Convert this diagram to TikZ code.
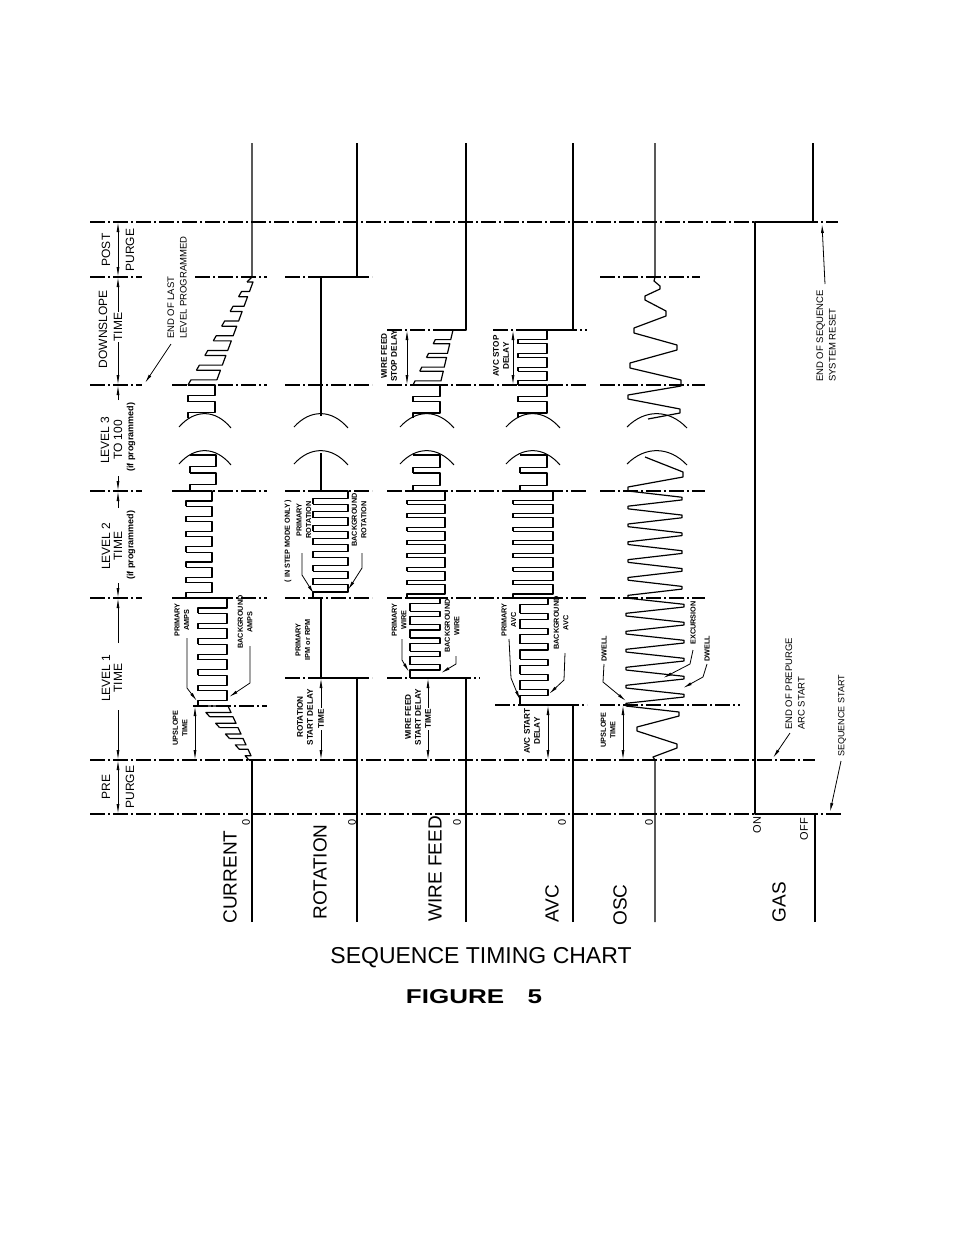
\documentclass[tikz,border=0pt]{standalone}
\usepackage{fontspec}
\setmainfont{Liberation Sans}
\usetikzlibrary{arrows.meta}
% square wave: #1 y bottom, #2 y top, #3 periods, #4 xL bottom, #5 xR bottom, #6 xL top, #7 xR top, #8 fraction at L
\newcommand\sqw[8]{%
  \pgfmathsetmacro\sqP{(#1-#2)/#3}%
  \foreach \sqk in {1,...,#3}{%
    \pgfmathsetmacro\sqYa{#1-(\sqk-1)*\sqP}%
    \pgfmathsetmacro\sqYb{\sqYa-#8*\sqP}%
    \pgfmathsetmacro\sqYc{\sqYa-\sqP}%
    \pgfmathsetmacro\sqTa{(#1-\sqYa)/(#1-#2)}%
    \pgfmathsetmacro\sqTb{(#1-\sqYb)/(#1-#2)}%
    \pgfmathsetmacro\sqTc{(#1-\sqYc)/(#1-#2)}%
    \pgfmathsetmacro\sqLa{#4+(#6-#4)*\sqTa}%
    \pgfmathsetmacro\sqLb{#4+(#6-#4)*\sqTb}%
    \pgfmathsetmacro\sqRb{#5+(#7-#5)*\sqTb}%
    \pgfmathsetmacro\sqRc{#5+(#7-#5)*\sqTc}%
    \pgfmathsetmacro\sqLc{#4+(#6-#4)*\sqTc}%
    \draw[sig] (\sqLa,\sqYa) -- (\sqLb,\sqYb) -- (\sqRb,\sqYb) -- (\sqRc,\sqYc) -- (\sqLc,\sqYc);
  }%
}
% trapezoid wave: #1 y bottom, #2 y top, #3 periods, #4 centre, #5 amp bottom, #6 amp top, #7 dwell fraction
\newcommand\trw[7]{%
  \pgfmathsetmacro\trP{(#1-#2)/#3}%
  \foreach \trk in {1,...,#3}{%
    \pgfmathsetmacro\trYa{#1-(\trk-1)*\trP}%
    \pgfmathsetmacro\trYb{\trYa-#7*\trP/2}%
    \pgfmathsetmacro\trYc{\trYa-\trP/2}%
    \pgfmathsetmacro\trYd{\trYc-#7*\trP/2}%
    \pgfmathsetmacro\trYe{\trYa-\trP}%
    \pgfmathsetmacro\trXa{#4-(#5+(#6-#5)*(#1-\trYa)/(#1-#2))}%
    \pgfmathsetmacro\trXb{#4-(#5+(#6-#5)*(#1-\trYb)/(#1-#2))}%
    \pgfmathsetmacro\trXc{#4+(#5+(#6-#5)*(#1-\trYc)/(#1-#2))}%
    \pgfmathsetmacro\trXd{#4+(#5+(#6-#5)*(#1-\trYd)/(#1-#2))}%
    \pgfmathsetmacro\trXe{#4-(#5+(#6-#5)*(#1-\trYe)/(#1-#2))}%
    \draw[sig] (\trXa,\trYa) -- (\trXb,\trYb) -- (\trXc,\trYc) -- (\trXd,\trYd) -- (\trXe,\trYe);
  }%
}
% break marks
\newcommand\brk[2]{%
  \draw[line width=1pt] ({#1-#2},427) .. controls ({#1-#2*0.4},409) and ({#1+#2*0.4},409) .. ({#1+#2},428);
  \draw[line width=1pt] ({#1-#2},464) .. controls ({#1-#2*0.4},446) and ({#1+#2*0.4},446) .. ({#1+#2},465);
}
\begin{document}
\begin{tikzpicture}[x=1pt,y=-1pt,
  sig/.style={line width=1.2pt,line join=round},
  dd/.style={line width=1.1pt,dash pattern=on 15pt off 3pt on 2pt off 3pt},
  dim/.style={line width=0.8pt,arrows={Latex[length=10pt,width=3pt]-Latex[length=10pt,width=3pt]}},
  dimhalf/.style={line width=0.8pt,arrows={-Latex[length=10pt,width=3pt]}},
  lead/.style={line width=0.8pt,arrows={-Latex[length=9pt,width=3pt]}},
  hdr/.style={rotate=90,font=\fontsize{12}{13}\selectfont,inner sep=1pt},
  hdrw/.style={hdr,fill=white},
  prog/.style={rotate=90,font=\fontsize{9}{10}\selectfont\bfseries,inner sep=1pt},
  sml/.style={rotate=90,font=\fontsize{7.3}{9.5}\selectfont\bfseries,align=center,inner sep=0.5pt},
  dly/.style={rotate=90,font=\fontsize{8.2}{10}\selectfont\bfseries,align=center,inner sep=0.5pt},
  dlyw/.style={dly,fill=white,inner sep=1.5pt},
  note/.style={rotate=90,font=\fontsize{9.5}{12.5}\selectfont,align=left,anchor=west,inner sep=0pt},
  big/.style={rotate=90,font=\fontsize{19}{20}\selectfont,inner sep=0pt},
  zero/.style={rotate=90,font=\fontsize{11}{12}\selectfont,inner sep=0pt}]
\fill[white] (0,0) rectangle (954,1235);
\path[use as bounding box] (0,0) rectangle (954,1235);

% ---------- dash-dot time lines ----------
\draw[dd] (90,222)--(838,222);
\draw[dd] (90,814)--(842,814);
\draw[dd] (90,760)--(815,760);
\foreach \yy in {277,385,491,598}{\draw[dd] (90,\yy)--(142,\yy);}
\draw[dd] (195,277)--(267,277);
\draw[dd] (285,277)--(372,277);
\draw[dd] (600,277)--(700,277);
\draw[dd] (387,330)--(453,330);
\draw[dd] (493,330)--(587,330);
\foreach \yy in {385,491,598}{%
  \draw[dd] (172,\yy)--(267,\yy);
  \draw[dd] (285,\yy)--(372,\yy);
  \draw[dd] (387,\yy)--(587,\yy);
  \draw[dd] (600,\yy)--(705,\yy);
}
\draw[dd] (285,678)--(372,678);
\draw[dd] (387,678)--(480,678);
\draw[dd] (193,706)--(267,706);
\draw[dd] (495,705)--(587,705);
\draw[dd] (600,705)--(740,705);

% ---------- header ----------
\draw[dim] (118,222)--(118,277);
\node[hdr] (post) at (106,250) {POST};
\node[hdr] (purgeA) at (130,250) {PURGE};
\draw[dimhalf] (118,312)--(118,277);
\draw[dimhalf] (118,342)--(118,385);
\node[hdr] (down) at (103,329) {DOWNSLOPE};
\node[hdrw] (downt) at (118,327) {TIME};
\draw[dimhalf] (118,400)--(118,385);
\draw[dimhalf] (118,476)--(118,491);
\node[hdr] (lv3) at (105,440) {LEVEL 3};
\node[hdr] (lv3t) at (118,440) {TO 100};
\node[prog] (lv3p) at (131,437) {(if programmed)};
\draw[dimhalf] (118,508)--(118,491);
\draw[dimhalf] (118,583)--(118,598);
\node[hdr] (lv2) at (106,546) {LEVEL 2};
\node[hdr] (lv2t) at (118,546) {TIME};
\node[prog] (lv2p) at (131,545) {(if programmed)};
\draw[dimhalf] (118,643)--(118,598);
\draw[dimhalf] (118,710)--(118,760);
\node[hdr] (lv1) at (106,678) {LEVEL 1};
\node[hdr] (lv1t) at (118,678) {TIME};
\draw[dim] (118,760)--(118,814);
\node[hdr] (pre) at (106,787) {PRE};
\node[hdr] (purgeB) at (130,787) {PURGE};

% ---------- CURRENT ----------
\draw[sig] (252,922)--(252,760)--(249,760);
\sqw{760}{706}{5}{249}{253}{200}{228}{0.4}
\draw[sig] (200,706)--(198,706);
\sqw{706}{598}{7}{198}{227}{198}{227}{0.35}
\draw[sig] (198,598)--(186,598);
\sqw{598}{491}{7}{186}{212}{186}{212}{0.35}
\draw[sig] (186,491)--(190,491);
\sqw{491}{455}{2}{190}{216}{190}{216}{0.35}
\sqw{418}{385}{2}{188}{215}{188}{215}{0.35}
\sqw{385}{282}{7}{188}{215}{247}{253}{0.35}
\draw[sig] (247,282)--(252,277)--(252,143);
\brk{205}{26}
\draw[dim] (195,706)--(195,760);
\node[sml] (ups1) at (180,728) {UPSLOPE\\TIME};
\node[sml] (pamps) at (182,620) {PRIMARY\\AMPS};
\draw[lead] (187,638)--(187,688)--(197,701);
\node[sml] (bamps) at (245,622) {BACKGROUND\\AMPS};
\draw[lead] (250,646)--(250,683)--(229,697);
\node[note] (eol) at (177,339) {END OF LAST\\LEVEL PROGRAMMED};
\draw[lead] (171,344)--(145,383);
\node[zero] (z1) at (246,822) {0};
\node[big] (lcur) at (230,877) {CURRENT};

% ---------- ROTATION ----------
\draw[sig] (357,922)--(357,678)--(321,678)--(321,598)--(313,598);
\sqw{598}{491}{8}{313}{348}{313}{348}{0.45}
\draw[sig] (313,491)--(321,491)--(321,453);
\draw[sig] (321,416)--(321,277)--(357,277)--(357,143);
\brk{321}{27}
\draw[dim] (321,678)--(321,760);
\node[dly] (rsd) at (305,717) {ROTATION\\START DELAY};
\node[dlyw] (rsdt) at (321,719) {TIME};
\node[sml] (pipm) at (303,640) {PRIMARY\\IPM or RPM};
\node[sml] (step) at (288,541) {( IN STEP MODE ONLY )};
\node[sml] (prot) at (304,520) {PRIMARY\\ROTATION};
\draw[lead] (302,553)--(302,575)--(314,594);
\node[sml] (brot) at (359,520) {BACKGROUND\\ROTATION};
\draw[lead] (362,553)--(362,568)--(348,590);
\node[zero] (z2) at (352,822) {0};
\node[big] (lrot) at (320,872) {ROTATION};

% ---------- WIRE FEED ----------
\draw[sig] (466,922)--(466,678)--(410,678);
\sqw{678}{598}{6}{410}{440}{410}{440}{0.6}
\draw[sig] (410,598)--(407,598);
\sqw{598}{491}{8}{407}{445}{407}{445}{0.3}
\draw[sig] (407,491)--(413,491);
\sqw{491}{455}{2}{413}{440}{413}{440}{0.3}
\sqw{418}{385}{2}{413}{440}{413}{440}{0.3}
\sqw{385}{330}{4}{413}{440}{440}{453}{0.3}
\draw[sig] (440,330)--(466,330)--(466,143);
\brk{427}{27}
\draw[dim] (407,330)--(407,385);
\node[dly] (wsd) at (389,356) {WIRE FEED\\STOP DELAY};
\draw[dim] (428,678)--(428,760);
\node[dly] (wst) at (413,717) {WIRE FEED\\START DELAY};
\node[dlyw] (wstt) at (428,719) {TIME};
\node[sml] (pwire) at (399,620) {PRIMARY\\WIRE};
\draw[lead] (402,639)--(402,660)--(409,672);
\node[sml] (bwire) at (452,626) {BACKGROUND\\WIRE};
\draw[lead] (456,656)--(456,664)--(441,673);
\node[zero] (z3) at (457,822) {0};
\node[big] (lwire) at (435,869) {WIRE FEED};

% ---------- AVC ----------
\draw[sig] (573,922)--(573,705)--(520,705);
\sqw{705}{598}{7}{520}{548}{520}{548}{0.6}
\draw[sig] (520,598)--(513,598);
\sqw{598}{491}{8}{513}{553}{513}{553}{0.3}
\draw[sig] (513,491)--(520,491);
\sqw{491}{455}{2}{520}{547}{520}{547}{0.3}
\sqw{418}{385}{2}{518}{547}{518}{547}{0.3}
\sqw{385}{330}{4}{518}{547}{518}{547}{0.3}
\draw[sig] (518,330)--(573,330)--(573,143);
\brk{533}{27}
\draw[dim] (513,330)--(513,385);
\node[dly] (asd) at (501,356) {AVC STOP\\DELAY};
\draw[dim] (548,705)--(548,760);
\node[dly] (ast) at (532,731) {AVC START\\DELAY};
\node[sml] (pavc) at (509,620) {PRIMARY\\AVC};
\draw[lead] (509,639)--(511,678)--(520,700);
\node[sml] (bavc) at (561,623) {BACKGROUND\\AVC};
\draw[lead] (565,653)--(564,680)--(549,694);
\node[zero] (z4) at (562,822) {0};
\node[big] (lavc) at (552,904) {AVC};

% ---------- OSC ----------
\draw[sig] (655,922)--(655,760)--(653,757)--(677,748)--(677,744)--(637,731)--(637,727)--(679,716)--(679,712)--(626,706);
\trw{706}{598}{6}{655}{29}{29}{0.3}
\trw{598}{491}{6}{655}{27}{27}{0.3}
\draw[sig] (628,491)--(628,487)--(683,477)--(683,472)--(645,457);
\draw[sig] (648,419)--(680,413)--(680,409)--(628,399)--(628,395)--(681,386)--(681,380)--(630,368)--(630,363)--(677,350)--(677,345)--(634,333)--(634,328)--(666,316)--(666,311)--(645,300)--(645,296)--(660,289)--(660,286)--(654,281)--(655,277)--(655,143);
\brk{657}{30}
\draw[dim] (623,705)--(623,760);
\node[sml] (ups2) at (608,730) {UPSLOPE\\TIME};
\node[sml] (dw1) at (604,649) {DWELL};
\draw[lead] (604,664)--(603,682)--(626,701);
\node[sml] (exc) at (693,623) {EXCURSION};
\draw[lead] (693,650)--(690,664)--(663,678);
\node[sml] (dw2) at (707,649) {DWELL};
\draw[lead] (707,664)--(703,677)--(683,688);
\node[zero] (z5) at (649,822) {0};
\node[big] (losc) at (620,905) {OSC};

% ---------- GAS ----------
\draw[sig] (815,922)--(815,814)--(755,814)--(755,222)--(813,222)--(813,143);
\node[zero] (on) at (757,825) {ON};
\node[zero] (off) at (804,829) {OFF};
\node[big] (lgas) at (779,902) {GAS};
\node[note] (eos) at (826,382) {END OF SEQUENCE\\SYSTEM RESET};
\draw[lead] (825,284)--(822,224);
\node[note] (eop) at (795,730) {END OF PREPURGE\\ARC START};
\draw[lead] (790,733)--(773,758);
\node[note,font=\fontsize{9}{11}\selectfont] (sst) at (842,757) {SEQUENCE START};
\draw[lead] (841,761)--(830,812);

% ---------- title ----------
\node[font=\fontsize{23}{24}\selectfont] (title) at (481,958) {SEQUENCE TIMING CHART};
\node[font=\fontsize{20}{22}\selectfont\bfseries] (fig) at (474,997) {\scalebox{1.3}[1]{FIGURE\hspace{0.9em}5}};
\end{tikzpicture}
\end{document}
